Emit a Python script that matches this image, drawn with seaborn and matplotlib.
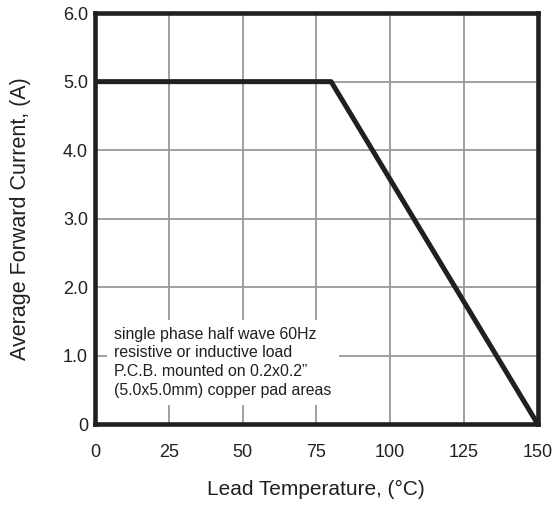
import numpy as np
import pandas as pd
import matplotlib
matplotlib.use("Agg")
import matplotlib.pyplot as plt
import seaborn as sns

# derating curve
lead_temp = [0, 80, 150]
avg_current = [5.0, 5.0, 0.0]

x_ticks = [0, 25, 50, 75, 100, 125, 150]
y_ticks = [0, 1, 2, 3, 4, 5, 6]
y_tick_labels = ["0", "1.0", "2.0", "3.0", "4.0", "5.0", "6.0"]

note = ("single phase half wave 60Hz\n"
        "resistive or inductive load\n"
        "P.C.B. mounted on 0.2x0.2\u201d\n"
        "(5.0x5.0mm) copper pad areas")

sns.set_style("white")
plt.rcParams['font.family'] = ['Liberation Sans', 'DejaVu Sans']

df = pd.DataFrame({"temp": lead_temp, "current": avg_current})

fig = plt.figure(figsize=(5.55, 5.05), dpi=100)
ax = fig.add_axes([0.171, 0.160, 0.798, 0.814])

sns.lineplot(data=df, x="temp", y="current", ax=ax, color="#231f20",
             linewidth=3.6, zorder=5)

ax.set_xlim(0, 150)
ax.set_ylim(0, 6)
ax.set_xticks(x_ticks)
ax.set_yticks(y_ticks)
ax.set_yticklabels(y_tick_labels)
ax.grid(True, color="#999999", linewidth=1.3)
ax.set_axisbelow(True)
ax.tick_params(length=0, labelsize=13, colors="#231f20")
ax.tick_params(axis="x", pad=14)
ax.tick_params(axis="y", pad=5)

for s in ax.spines.values():
    s.set_linewidth(3.3)
    s.set_color("#231f20")
    s.set_zorder(6)

ax.set_xlabel("Lead Temperature, (\u00b0C)", fontsize=15, labelpad=14, color="#231f20")
ax.set_ylabel("Average Forward Current, (A)", fontsize=15.5, labelpad=23, color="#231f20")

ax.text(0.044, 0.237, note, transform=ax.transAxes, fontsize=11.4,
        va="top", ha="left", linespacing=1.3, color="#231f20", zorder=4,
        bbox=dict(facecolor="white", edgecolor="none", pad=5))

fig.savefig("out.png", dpi=100)
